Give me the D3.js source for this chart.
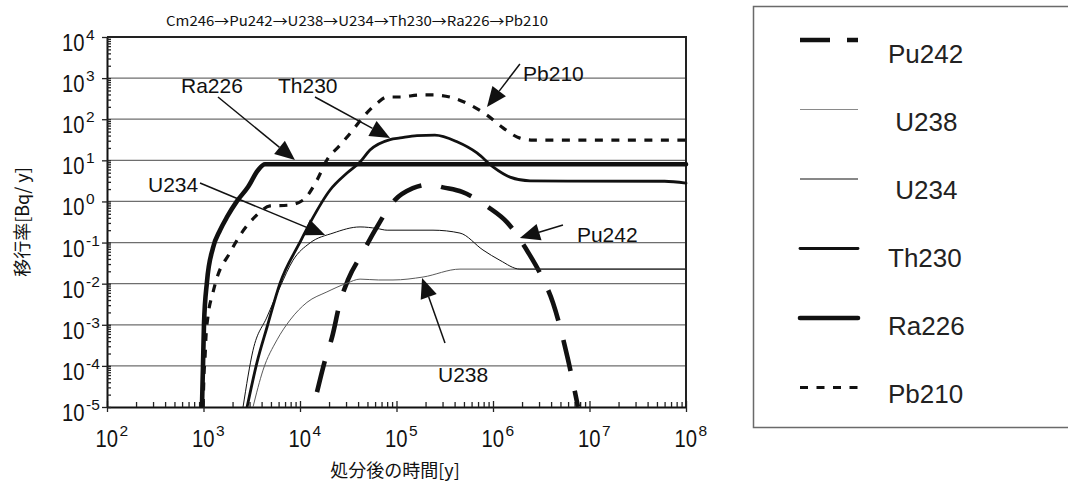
<!DOCTYPE html>
<html>
<head>
<meta charset="utf-8">
<script src="https://cdn.jsdelivr.net/npm/d3@7"></script>
<style>
  html, body { margin: 0; padding: 0; background: #fff; }
  svg { display: block; font-family: "Liberation Sans", Arial, Helvetica, sans-serif; }
  .cjk { font-family: "Noto Sans CJK JP", "Noto Sans CJK SC", sans-serif; }
  .legend-label { white-space: pre; }
</style>
</head>
<body>
<svg id="chart" width="1068" height="484"></svg>
<script>
// ---- text ----
const chartTitle = "Cm246→Pu242→U238→U234→Th230→Ra226→Pb210";
const xTitle = "処分後の時間[y]";
const yTitle = "移行率[Bq/ y]";

// ---- tick labels (powers of ten) ----
const xExponents = [2, 3, 4, 5, 6, 7, 8];
const yExponents = [-5, -4, -3, -2, -1, 0, 1, 2, 3, 4];

// ---- release rate series: [time after disposal (y), rate (Bq/y)] ----
const pu242 = [
  [1.5e4, 2.3e-5], [1.82e4, 1.4e-4], [2.15e4, 5e-4], [2.6e4, 3.5e-3], [3.14e4, 0.0123],
  [4.5e4, 0.059], [6e4, 0.2], [9.6e4, 1.08], [1.48e5, 2.1], [2.22e5, 2.6], [3.03e5, 2.2],
  [4.78e5, 1.7], [8.9e5, 0.73], [1.4e6, 0.31], [2.3e6, 0.059], [3.07e6, 0.018],
  [4.19e6, 3.4e-3], [6e6, 1.4e-4], [7.6e6, 1e-5]
];
const u238 = [
  [3260, 1e-5], [4140, 7.9e-5], [5780, 4.3e-4], [7880, 1.3e-3], [1.18e4, 3.5e-3],
  [1.9e4, 6.3e-3], [3.07e4, 0.0103], [4.19e4, 0.0129], [6.5e4, 0.0123], [9.2e4, 0.0123],
  [1.88e5, 0.0145], [4.55e5, 0.0226], [1e8, 0.0226]
];
const u234 = [
  [2570, 1e-5], [3260, 2.4e-4], [4550, 1.55e-3], [6210, 8.3e-3], [8460, 0.037],
  [1.27e4, 0.098], [2.2e4, 0.17], [4.19e4, 0.24], [6.28e4, 0.22], [8e4, 0.2],
  [2.39e5, 0.2], [4.55e5, 0.17], [7.87e5, 0.066], [1.18e6, 0.037], [1.9e6, 0.0226],
  [1e8, 0.0226]
];
const th230 = [
  [2830, 1e-5], [3580, 1.2e-4], [4550, 8.7e-4], [6210, 1.02e-2], [1e4, 0.102],
  [1.27e4, 0.3], [2.05e4, 1.9], [3.07e4, 4.9], [4.19e4, 9.1], [5.31e4, 17.8],
  [8.57e4, 32], [1.09e5, 35], [1.63e5, 40], [2.5e5, 41], [4.24e5, 28.2], [6.82e5, 15.1],
  [1e6, 6.9], [1.5e6, 3.9], [2.42e6, 3.16], [6e7, 3.1], [1e8, 2.8]
];
const ra226 = [
  [964, 1e-5], [988, 1e-4], [1012, 1.05e-3], [1086, 1.1e-2], [1253, 7.4e-2],
  [1483, 0.2], [1754, 0.42], [2223, 1.02], [2891, 2.24], [3673, 5.75], [4335, 8],
  [1e8, 8]
];
const pb210 = [
  [990, 1e-5], [1010, 5.4e-5], [1040, 1.8e-4], [1060, 5e-4], [1110, 1.55e-3],
  [1250, 5.9e-3], [1410, 0.0162], [1840, 0.052], [2390, 0.15], [3580, 0.47],
  [4890, 0.78], [7520, 0.81], [1.07e4, 1.07], [1.5e4, 3.3], [1.9e4, 10.2],
  [2.6e4, 23.4], [3.54e4, 55], [4.5e4, 112], [6.28e4, 245], [8e4, 347], [1.09e5, 347],
  [1.75e5, 389], [2.39e5, 389], [3.58e5, 347], [5.78e5, 224], [8.67e5, 126],
  [1.27e6, 61.7], [1.9e6, 34.7], [2.6e6, 31], [1e8, 31]
];

const seriesNames = ["Pu242", "U238", "U234", "Th230", "Ra226", "Pb210"];
const seriesData = [pu242, u238, u234, th230, ra226, pb210];

// legend captions (U238/U234 carry a leading space)
const legendLabels = ["Pu242", " U238", " U234", "Th230", "Ra226", "Pb210"];

// ---- callouts, anchored in data space ----
const callouts = [
  { text: "Ra226", at: [585, 433],    from: [1413, 347],   to: [8870, 10.2] },
  { text: "Th230", at: [5910, 433],   from: [1.43e4, 347], to: [8.57e4, 34.9] },
  { text: "Pb210", at: [2.05e6, 849], from: [1.9e6, 2200], to: [8.67e5, 198] },
  { text: "U234",  at: [266, 1.69],   from: [920, 2.8],    to: [1.82e4, 0.152] },
  { text: "Pu242", at: [7.41e6, 0.103], from: [5.31e6, 0.267], to: [1.9e6, 0.129] },
  { text: "U238",  at: [2.69e5, 4.0e-5], from: [3.18e5, 3.6e-4], to: [1.84e5, 0.0137] }
];

// ---- line styles per nuclide ----
const styles = {
  Pu242: { width: 4.6, color: "#111", dash: "32,20", cap: "butt" },
  U238:  { width: 1.0, color: "#5a5a5a", dash: null, cap: "butt" },
  U234:  { width: 1.0, color: "#111", dash: null, cap: "butt" },
  Th230: { width: 2.8, color: "#111", dash: null, cap: "round" },
  Ra226: { width: 4.6, color: "#111", dash: null, cap: "round" },
  Pb210: { width: 3.2, color: "#111", dash: "8,8.5", cap: "butt" }
};

// ---- layout ----
const plot = { left: 107, right: 686, top: 37, bottom: 407 };

const svg = d3.select("#chart");

const x = d3.scaleLog().domain([1e2, 1e8]).range([plot.left, plot.right]);
const y = d3.scaleLog().domain([1e-5, 1e4]).range([plot.bottom, plot.top]);

// horizontal grid at every decade
svg.append("g")
  .selectAll("line")
  .data(yExponents.filter(e => e > -5 && e < 4))
  .join("line")
  .attr("x1", plot.left).attr("x2", plot.right)
  .attr("y1", e => y(Math.pow(10, e))).attr("y2", e => y(Math.pow(10, e)))
  .attr("stroke", "#6e6e6e").attr("stroke-width", 1.3);

// frame: top and right edges
svg.append("path")
  .attr("d", `M${plot.left},${plot.top}H${plot.right}V${plot.bottom}`)
  .attr("fill", "none").attr("stroke", "#222").attr("stroke-width", 2);

// minor tick values
const xMinor = [];
for (let k = 2; k < 8; k++) for (let m = 2; m <= 9; m++) xMinor.push(m * Math.pow(10, k));
const yMinor = [];
for (let k = -5; k < 4; k++) for (let m = 2; m <= 9; m++) yMinor.push(m * Math.pow(10, k));
const xMajor = xExponents.map(e => Math.pow(10, e));
const yMajor = yExponents.map(e => Math.pow(10, e));

function styleAxis(g, showDomain) {
  g.selectAll(".tick line").attr("stroke", "#222").attr("stroke-width", 1.3);
  g.select(".domain").attr("stroke", showDomain ? "#111" : "none").attr("stroke-width", 2);
  g.selectAll(".tick text").remove();
}

// x axis: minor ticks inside, major ticks crossing
svg.append("g").attr("transform", `translate(0,${plot.bottom})`)
  .call(d3.axisBottom(x).tickValues(xMinor).tickSize(-5).tickSizeOuter(0).tickFormat(""))
  .call(g => styleAxis(g, true));
svg.append("g").attr("transform", `translate(0,${plot.bottom})`)
  .call(d3.axisBottom(x).tickValues(xMajor).tickSize(5).tickSizeOuter(0).tickFormat(""))
  .call(g => styleAxis(g, false));
svg.append("g").attr("transform", `translate(0,${plot.bottom})`)
  .call(d3.axisBottom(x).tickValues(xMajor).tickSize(-6).tickSizeOuter(0).tickFormat(""))
  .call(g => styleAxis(g, false));

// y axis: minor ticks inside, major ticks crossing
svg.append("g").attr("transform", `translate(${plot.left},0)`)
  .call(d3.axisLeft(y).tickValues(yMinor).tickSize(-4).tickSizeOuter(0).tickFormat(""))
  .call(g => styleAxis(g, true));
svg.append("g").attr("transform", `translate(${plot.left},0)`)
  .call(d3.axisLeft(y).tickValues(yMajor).tickSize(5).tickSizeOuter(0).tickFormat(""))
  .call(g => styleAxis(g, false));
svg.append("g").attr("transform", `translate(${plot.left},0)`)
  .call(d3.axisLeft(y).tickValues(yMajor).tickSize(-4).tickSizeOuter(0).tickFormat(""))
  .call(g => styleAxis(g, false));

// power-of-ten tick labels (tall, slightly condensed digits)
function powerLabel(sel) {
  sel.append("tspan").attr("font-size", 23)
    .attr("textLength", 22.5).attr("lengthAdjust", "spacingAndGlyphs")
    .text("10");
  sel.append("tspan").attr("font-size", 15.5).attr("dx", 1.5).attr("dy", -11).text(e => String(e));
}
svg.append("g")
  .selectAll("text")
  .data(xExponents)
  .join("text")
  .attr("x", e => x(Math.pow(10, e)) - 11.5)
  .attr("y", 447)
  .attr("fill", "#111")
  .call(powerLabel);
svg.append("g")
  .selectAll("text")
  .data(yExponents)
  .join("text")
  .attr("x", 62)
  .attr("y", e => y(Math.pow(10, e)) + 14)
  .attr("fill", "#111")
  .call(powerLabel);

// series lines
const line = d3.line()
  .x(d => x(d[0]))
  .y(d => y(d[1]))
  .curve(d3.curveMonotoneX);

svg.append("clipPath").attr("id", "plot-clip")
  .append("rect")
  .attr("x", plot.left).attr("y", plot.top - 3)
  .attr("width", plot.right - plot.left + 3).attr("height", plot.bottom - plot.top + 3);

svg.append("g").attr("clip-path", "url(#plot-clip)")
  .selectAll("path")
  .data(seriesNames.map((n, i) => ({ name: n, values: seriesData[i] })))
  .join("path")
  .attr("d", d => line(d.values))
  .attr("fill", "none")
  .attr("stroke", d => styles[d.name].color)
  .attr("stroke-width", d => styles[d.name].width)
  .attr("stroke-dasharray", d => styles[d.name].dash)
  .attr("stroke-linecap", d => styles[d.name].cap)
  .attr("stroke-linejoin", "round");

// callout arrows and labels
const arrowLen = 20, arrowHalf = 8.5;
const cg = svg.append("g");
callouts.forEach(c => {
  const x0 = x(c.from[0]), y0 = y(c.from[1]);
  const x1 = x(c.to[0]), y1 = y(c.to[1]);
  const dx = x1 - x0, dy = y1 - y0, len = Math.hypot(dx, dy);
  const ux = dx / len, uy = dy / len;
  const bx = x1 - ux * arrowLen, by = y1 - uy * arrowLen;
  cg.append("line")
    .attr("x1", x0).attr("y1", y0).attr("x2", bx).attr("y2", by)
    .attr("stroke", "#111").attr("stroke-width", 1.5);
  cg.append("path")
    .attr("d", `M${x1},${y1}L${bx - uy * arrowHalf},${by + ux * arrowHalf}L${bx + uy * arrowHalf},${by - ux * arrowHalf}Z`)
    .attr("fill", "#111");
  cg.append("text")
    .attr("x", x(c.at[0])).attr("y", y(c.at[1]))
    .attr("font-size", 21).attr("fill", "#111")
    .text(c.text);
});

// chart title
svg.append("text")
  .attr("class", "cjk")
  .attr("x", 357).attr("y", 26)
  .attr("text-anchor", "middle")
  .attr("font-size", 13.5).attr("fill", "#111")
  .attr("textLength", 382).attr("lengthAdjust", "spacingAndGlyphs")
  .text(chartTitle);

// axis titles
svg.append("text")
  .attr("class", "cjk")
  .attr("x", 395).attr("y", 477)
  .attr("text-anchor", "middle")
  .attr("font-size", 18).attr("fill", "#111")
  .text(xTitle);
svg.append("text")
  .attr("class", "cjk")
  .attr("transform", "translate(29,222) rotate(-90)")
  .attr("text-anchor", "middle")
  .attr("font-size", 18).attr("fill", "#111")
  .text(yTitle);

// legend
const legend = svg.append("g");
legend.append("rect")
  .attr("x", 753.5).attr("y", 6.5)
  .attr("width", 340).attr("height", 421)
  .attr("fill", "#fff").attr("stroke", "#6a6a6a").attr("stroke-width", 1.5);
const items = legend.selectAll("g.item")
  .data(seriesNames)
  .join("g").attr("class", "item");
items.append("line")
  .attr("x1", 800).attr("x2", 858)
  .attr("y1", (d, i) => 40 + i * 69.5).attr("y2", (d, i) => 40 + i * 69.5)
  .attr("stroke", d => d === "U238" ? "#8a8a8a" : styles[d].color)
  .attr("stroke-width", d => styles[d].width)
  .attr("stroke-dasharray", d => d === "Pu242" ? "30,17" : styles[d].dash)
  .attr("stroke-linecap", d => styles[d].cap);
items.append("text")
  .attr("class", "legend-label")
  .attr("x", 888)
  .attr("y", (d, i) => 62.5 + i * 68.1)
  .attr("font-size", 26).attr("fill", "#222")
  .text((d, i) => legendLabels[i]);
</script>
</body>
</html>
